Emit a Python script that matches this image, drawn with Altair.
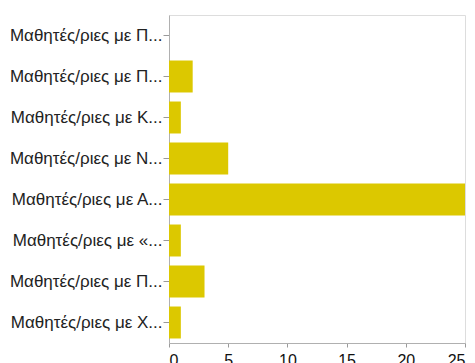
import json
import altair as alt
import pandas as pd

# Category labels (as shown, truncated) in display order, top to bottom
labels = [
    "Μαθητές/ριες με Π...",
    "Μαθητές/ριες με Π...",
    "Μαθητές/ριες με Κ...",
    "Μαθητές/ριες με Ν...",
    "Μαθητές/ριες με Α...",
    "Μαθητές/ριες με «...",
    "Μαθητές/ριες με Π...",
    "Μαθητές/ριες με Χ...",
]
counts = [0, 2, 1, 5, 25, 1, 3, 1]
x_ticks = [0, 5, 10, 15, 20, 25]

df = pd.DataFrame({"idx": list(range(len(labels))), "count": counts})
label_expr = json.dumps(labels, ensure_ascii=False) + "[datum.value]"

chart = (
    alt.Chart(df)
    .mark_bar(color="#DCC800")
    .encode(
        y=alt.Y(
            "idx:O",
            sort=list(range(len(labels))),
            scale=alt.Scale(paddingInner=0.22, paddingOuter=0.11),
            axis=alt.Axis(
                title=None,
                labelExpr=label_expr,
                labelFont="Liberation Sans",
                labelFontSize=17,
                labelColor="#222222",
                labelPadding=1,
                tickSize=6,
                tickColor="#9a9a9a",
                domainColor="#b0b0b0",
            ),
        ),
        x=alt.X(
            "count:Q",
            scale=alt.Scale(domain=[0, 25], nice=False),
            axis=alt.Axis(
                title=None,
                values=x_ticks,
                grid=False,
                labelFont="Liberation Sans",
                labelFontSize=16,
                labelColor="#111111",
                tickSize=4,
                tickColor="#9a9a9a",
                domainColor="#b0b0b0",
                labelPadding=5,
            ),
        ),
    )
    .properties(
        width=296,
        height=328,
        autosize=alt.AutoSizeParams(type="none"),
        padding={"left": 169, "top": 15, "right": 10, "bottom": 20},
    )
    .configure_view(stroke=None)
    .configure(background="white")
)

chart.save("out.html", embed_options={"renderer": "svg", "actions": False})
